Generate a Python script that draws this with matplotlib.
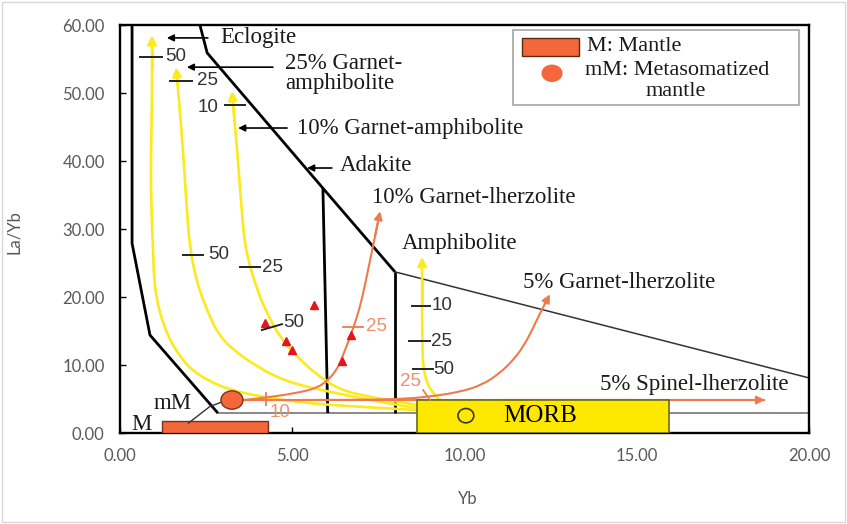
import matplotlib
matplotlib.use("Agg")
import matplotlib.pyplot as plt
from matplotlib.patches import Rectangle, Ellipse, PathPatch
from matplotlib.path import Path

# ---------------- data ----------------
x_ticks = [0, 5, 10, 15, 20]
y_ticks = [0, 10, 20, 30, 40, 50, 60]

# field boundaries
eclogite_bnd_x = [0.35, 0.35, 0.87, 2.84]
eclogite_bnd_y = [60.0, 27.9, 14.4, 2.94]
base_line_x = [2.84, 20.0]
base_line_y = [2.94, 2.94]
adakite_bnd_x = [2.32, 2.53, 5.89, 7.98]
adakite_bnd_y = [60.0, 55.9, 36.0, 23.7]
adakite_vert_x = [5.89, 6.03]
adakite_vert_y = [36.0, 2.94]
amph_vert_x = [7.98, 7.98]
amph_vert_y = [23.7, 2.94]
amph_diag_x = [7.98, 20.0]
amph_diag_y = [23.7, 8.1]

# melting curves (yellow)
eclogite_x = [8.62, 7.55, 6.10, 5.14, 4.15, 3.19, 2.53, 2.09, 1.83, 1.57, 1.36, 1.19, 1.07, 0.99, 0.96, 0.90, 0.90, 0.93, 0.93]
eclogite_y = [3.38, 3.68, 4.12, 4.56, 5.29, 6.32, 7.79, 9.26, 10.7, 12.6, 14.7, 17.1, 19.6, 22.5, 26.9, 34.3, 41.6, 49.0, 58.5]
ga25_x = [8.62, 7.55, 6.10, 4.85, 3.98, 3.19, 2.84, 2.61, 2.41, 2.24, 2.03, 1.92, 1.83, 1.71, 1.63]
ga25_y = [3.68, 4.56, 6.03, 7.5, 9.71, 12.6, 14.7, 17.1, 19.6, 22.1, 26.9, 34.3, 41.6, 49.0, 53.8]
ga10_x = [8.62, 7.26, 6.39, 5.72, 5.14, 4.64, 4.27, 4.01, 3.63, 3.51, 3.40, 3.25]
ga10_y = [4.12, 5.29, 6.32, 8.53, 11.2, 14.1, 17.6, 20.6, 26.9, 34.3, 41.6, 50.3]
amphibolite_x = [9.29, 9.06, 8.91, 8.82, 8.77, 8.77]
amphibolite_y = [4.85, 6.03, 7.35, 9.26, 11.8, 25.9]

# melting curves (orange) from metasomatized mantle
gl10_x = [3.57, 4.15, 5.14, 5.72, 6.04, 6.24, 6.39, 6.53, 6.68, 6.88, 7.02, 7.26, 7.55]
gl10_y = [4.85, 5.15, 5.88, 6.62, 7.79, 8.97, 10.3, 12.2, 14.1, 17.1, 19.6, 25.4, 32.6]
gl5_x = [3.57, 6.97, 8.13, 8.91, 9.87, 10.51, 11.03, 11.41, 11.70, 11.96, 12.19, 12.48]
gl5_y = [4.85, 4.85, 5.0, 5.29, 6.03, 7.06, 8.82, 10.7, 12.65, 15.1, 17.6, 20.4]
sl5_x = [3.57, 18.72]
sl5_y = [4.85, 4.85]

# samples
sample_x = [4.21, 5.63, 4.82, 4.99, 6.71, 6.44]
sample_y = [16.2, 18.8, 13.5, 12.2, 14.4, 10.6]

# source regions
mantle_box = (1.22, 0.0, 3.08, 1.76)      # x, y, width, height
morb_box = (8.62, 0.0, 7.32, 4.85)
mm_point = (3.25, 4.85)

# ---------------- style ----------------
YEL = "#FBEA1E"
ORG = "#EE7A4E"
ORG_TXT = "#EE9070"
FILL_O = "#F4673A"
SERIF = "Liberation Serif"
SANS = "Liberation Sans"

fig = plt.figure(figsize=(8.47, 5.24), dpi=100)
fig.patches.append(Rectangle((0.002, 0.003), 0.996, 0.994, transform=fig.transFigure,
                             fill=False, edgecolor="#D9D9D9", lw=1.0))
ax = fig.add_axes([120 / 847, 1 - 433 / 524, 689 / 847, 408 / 524])
ax.set_xlim(0, 20)
ax.set_ylim(0, 60)
for s in ax.spines.values():
    s.set_linewidth(1.7)
    s.set_color("black")
ax.set_xticks(x_ticks)
ax.set_yticks(y_ticks)
ax.set_xticklabels([f"{v:.2f}" for v in x_ticks])
ax.set_yticklabels([f"{v:.2f}" for v in y_ticks])
ax.tick_params(direction="in", length=4, width=1.0, color="black",
               labelcolor="#595959", labelsize=12)
ax.tick_params(axis="x", pad=11)
ax.tick_params(axis="y", pad=11)
for lab in ax.get_xticklabels() + ax.get_yticklabels():
    lab.set_family("Lato")
ax.set_xlabel("Yb", family="Lato", fontsize=12, color="#595959")
ax.set_ylabel("La/Yb", family="Lato", fontsize=12, color="#595959")
ax.xaxis.set_label_coords(0.505, -0.142)
ax.yaxis.set_label_coords(-0.142, 0.493)

# boundaries
ax.plot(base_line_x, base_line_y, color="#808080", lw=1.3, zorder=2)
ax.plot(amph_diag_x, amph_diag_y, color="#333333", lw=1.1, zorder=2)
for bx, by in [(eclogite_bnd_x, eclogite_bnd_y), (adakite_bnd_x, adakite_bnd_y),
               (adakite_vert_x, adakite_vert_y), (amph_vert_x, amph_vert_y)]:
    ax.plot(bx, by, color="black", lw=2.0, zorder=3, solid_capstyle="butt")


def smooth_path(xs, ys):
    pts = list(zip(xs, ys))
    if len(pts) < 3:
        return Path(pts, [Path.MOVETO] + [Path.LINETO] * (len(pts) - 1))
    verts = [pts[0], ((pts[0][0] + pts[1][0]) / 2, (pts[0][1] + pts[1][1]) / 2)]
    codes = [Path.MOVETO, Path.LINETO]
    for i in range(1, len(pts) - 1):
        mid = ((pts[i][0] + pts[i + 1][0]) / 2, (pts[i][1] + pts[i + 1][1]) / 2)
        verts += [pts[i], mid]
        codes += [Path.CURVE3, Path.CURVE3]
    return Path(verts, codes)


def arrow_curve(xs, ys, color, lw, ms):
    ax.add_patch(PathPatch(smooth_path(xs, ys), fill=False, edgecolor=color, lw=lw,
                           zorder=4, capstyle="butt"))
    mx = (xs[-1] + xs[-2]) / 2
    my = (ys[-1] + ys[-2]) / 2
    ax.plot([mx, xs[-1] - 0.25 * (xs[-1] - xs[-2])],
            [my, ys[-1] - 0.25 * (ys[-1] - ys[-2])], color=color, lw=lw, zorder=4)
    ax.annotate("", xy=(xs[-1], ys[-1]), xytext=(mx, my),
                arrowprops=dict(arrowstyle="-|>", color=color, lw=lw,
                                mutation_scale=ms, shrinkA=0, shrinkB=0), zorder=4)


for cx, cy in [(eclogite_x, eclogite_y), (ga25_x, ga25_y), (ga10_x, ga10_y),
               (amphibolite_x, amphibolite_y)]:
    arrow_curve(cx, cy, YEL, 1.9, 13)

# source boxes
ax.add_patch(Rectangle(morb_box[:2], morb_box[2], morb_box[3], facecolor="#FFE800",
                       edgecolor="#6B6B1A", lw=1.2, zorder=5))
ax.add_patch(Ellipse((10.04, 2.55), 0.46, 2.1, facecolor="none", edgecolor="#3a3a10",
                     lw=1.2, zorder=6))
ax.text(12.2, 2.45, "MORB", family=SERIF, fontsize=18, ha="center", va="center", zorder=6)
ax.add_patch(Rectangle(mantle_box[:2], mantle_box[2], mantle_box[3], facecolor=FILL_O,
                       edgecolor="#7a3015", lw=1.0, zorder=5))

for cx, cy in [(gl10_x, gl10_y), (gl5_x, gl5_y), (sl5_x, sl5_y)]:
    arrow_curve(cx, cy, ORG, 1.5, 12)

ax.add_patch(Ellipse(mm_point, 0.64, 2.7, facecolor=FILL_O, edgecolor="#7a3015",
                     lw=1.0, zorder=7))

# samples
ax.plot(sample_x, sample_y, linestyle="none", marker="^", color="#E8141B",
        markersize=6, zorder=8)

# leader for M / mM
ax.plot([1.99, 2.61, 2.98], [1.47, 3.9, 4.6], color="#333333", lw=1.0, zorder=6)

# pointer arrows
for x0, x1, yy in [(2.55, 1.36, 58.1), (4.44, 1.94, 53.8), (4.85, 3.43, 44.85),
                   (6.15, 5.43, 38.97)]:
    ax.annotate("", xy=(x1, yy), xytext=(x0, yy),
                arrowprops=dict(arrowstyle="-|>", color="black", lw=1.2,
                                mutation_scale=10, shrinkA=0, shrinkB=0), zorder=6)

# serif labels
FS = 16.5
labels = [
    (2.90, 58.1, "Eclogite"),
    (4.79, 54.4, "25% Garnet-"),
    (4.79, 51.4, "amphibolite"),
    (5.14, 44.85, "10% Garnet-amphibolite"),
    (6.39, 39.3, "Adakite"),
    (7.31, 34.6, "10% Garnet-lherzolite"),
    (8.19, 27.8, "Amphibolite"),
    (11.70, 22.2, "5% Garnet-lherzolite"),
    (13.93, 7.06, "5% Spinel-lherzolite"),
    (0.98, 4.3, "mM"),
    (0.33, 1.3, "M"),
]
for lx, ly, t in labels:
    ax.text(lx, ly, t, family=SERIF, fontsize=FS, ha="left", va="center",
            color="#1a1a1a", zorder=9)

# percent marks along curves
marks = [
    ((0.58, 1.22), (55.3, 55.3), (1.31, 55.3, "50")),
    ((1.45, 2.09), (51.8, 51.8), (2.24, 51.8, "25")),
    ((3.05, 3.63), (48.2, 48.2), (2.24, 47.9, "10")),
    ((1.83, 2.41), (26.2, 26.2), (2.55, 26.2, "50")),
    ((3.48, 4.06), (24.4, 24.4), (4.12, 24.4, "25")),
    ((4.12, 4.70), (15.15, 16.0), (4.74, 16.3, "50")),
    ((8.48, 9.00), (18.7, 18.7), (9.04, 18.7, "10")),
    ((8.39, 9.00), (13.5, 13.5), (9.04, 13.5, "25")),
    ((8.50, 9.09), (9.4, 9.4), (9.10, 9.4, "50")),
]
for mx, my, (tx, ty, t) in marks:
    ax.plot(mx, my, color="#222222", lw=1.4, zorder=9)
    ax.text(tx, ty, t, family=SANS, fontsize=13.5, ha="left", va="center",
            color="#333333", zorder=9)

omarks = [
    ((6.47, 7.05), (15.6, 15.6), (7.15, 15.6, "25")),
    ((4.24, 4.24), (4.1, 5.9), (4.33, 3.0, "10")),
    ((8.80, 9.0), (6.3, 4.85), (8.12, 7.6, "25")),
]
for mx, my, (tx, ty, t) in omarks:
    ax.plot(mx, my, color=ORG, lw=1.3, zorder=9)
    ax.text(tx, ty, t, family=SANS, fontsize=13.5, ha="left", va="center",
            color=ORG_TXT, zorder=9)

# legend box
ax.add_patch(Rectangle((11.41, 48.2), 8.30, 11.1, facecolor="white", edgecolor="#A6A6A6",
                       lw=1.2, zorder=10))
ax.add_patch(Rectangle((11.67, 55.4), 1.65, 2.7, facecolor=FILL_O, edgecolor="#5a2a10",
                       lw=1.0, zorder=11))
ax.add_patch(Ellipse((12.54, 52.9), 0.58, 2.4, facecolor=FILL_O, edgecolor="#F4673A",
                     lw=0.8, zorder=11))
ax.text(13.56, 56.8, "M: Mantle", family=SERIF, fontsize=16, ha="left", va="center",
        color="#1a1a1a", zorder=11)
ax.text(13.50, 53.3, "mM: Metasomatized", family=SERIF, fontsize=16, ha="left",
        va="center", color="#1a1a1a", zorder=11)
ax.text(16.13, 50.2, "mantle", family=SERIF, fontsize=16, ha="center", va="center",
        color="#1a1a1a", zorder=11)

fig.savefig("out.png", dpi=100)
